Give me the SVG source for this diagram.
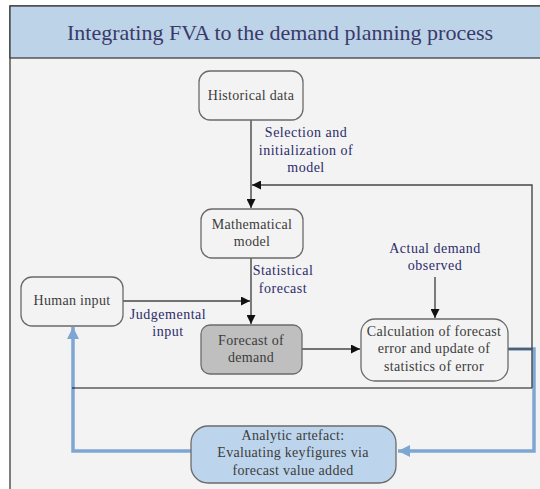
<svg xmlns="http://www.w3.org/2000/svg" width="540" height="489" viewBox="0 0 540 489">
  <defs>
    <marker id="arrow" viewBox="0 0 10 10" refX="10" refY="5" markerWidth="10" markerHeight="9" markerUnits="userSpaceOnUse" orient="auto">
      <path d="M0,0 L10,5 L0,10 z" fill="#111"/>
    </marker>
    <marker id="arrowBlue" viewBox="0 0 10 10" refX="10" refY="5" markerWidth="12" markerHeight="13" markerUnits="userSpaceOnUse" orient="auto">
      <path d="M0,0 L10,5 L0,10 z" fill="#7ea6d3"/>
    </marker>
    <style>
      text { font-family: "Liberation Serif", "DejaVu Serif", serif; }
      .node { fill: #f3f3f3; stroke: #6b6b6b; stroke-width: 1.3; }
      .dark { fill: #bfbfbf; }
      .blue { fill: #bdd5ec; }
      .ntext { font-size: 14px; letter-spacing: 0.3px; fill: #3c3c3c; text-anchor: middle; }
      .label { font-size: 14px; letter-spacing: 0.5px; fill: #2c2c6a; text-anchor: middle; }
      .title { font-size: 22px; fill: #3a3a6a; text-anchor: middle; }
      .conn { fill: none; stroke: #474747; stroke-width: 1.4; }
      .flow { fill: none; stroke: #7ea6d3; stroke-width: 3.5; }
    </style>
  </defs>

  <!-- page frame and title band -->
  <rect x="0" y="0" width="540" height="489" fill="#ffffff"/>
  <rect x="10" y="6" width="535" height="490" fill="#f3f3f3" stroke="#555" stroke-width="1.5"/>
  <rect x="10" y="6" width="535" height="52" fill="#bdd3e8" stroke="#333" stroke-width="1.2"/>
  <text class="title" x="280" y="40">Integrating FVA to the demand planning process</text>

  <!-- connectors -->
  <g id="connectors">
    <!-- value-added feedback loop (blue) -->
    <path class="flow" d="M508,349 H534 V451 H398" marker-end="url(#arrowBlue)"/>
    <path class="flow" d="M191,451 H73 V327" marker-end="url(#arrowBlue)"/>
    <!-- process boundary -->
    <path d="M72,388 H532" fill="none" stroke="#111" stroke-width="1.2"/>
    <path class="conn" d="M508,349 H532 V388"/>
    <!-- error feedback to model -->
    <path class="conn" d="M532,349 V185 H252" marker-end="url(#arrow)"/>
    <path class="conn" d="M251,120 V208" marker-end="url(#arrow)"/>
    <path class="conn" d="M251,258 V324" marker-end="url(#arrow)"/>
    <path class="conn" d="M123,301 H250" marker-end="url(#arrow)"/>
    <path class="conn" d="M302,349 H360" marker-end="url(#arrow)"/>
    <path class="conn" d="M435,277 V318" marker-end="url(#arrow)"/>
    <text class="label" x="306" y="137">Selection and</text>
    <text class="label" x="306" y="155">initialization of</text>
    <text class="label" x="306" y="172">model</text>
    <text class="label" x="283" y="275">Statistical</text>
    <text class="label" x="283" y="293">forecast</text>
    <text class="label" x="168" y="319">Judgemental</text>
    <text class="label" x="168" y="336">input</text>
    <text class="label" x="435" y="253">Actual demand</text>
    <text class="label" x="435" y="270">observed</text>
  </g>

  <g id="historical-data">
    <rect class="node" x="199" y="71" width="104" height="49" rx="11"/>
    <text class="ntext" x="251" y="100">Historical data</text>
  </g>

  <g id="mathematical-model">
    <rect class="node" x="201" y="209" width="102" height="49" rx="11"/>
    <text class="ntext" x="252" y="229">Mathematical</text>
    <text class="ntext" x="252" y="246">model</text>
  </g>

  <g id="human-input">
    <rect class="node" x="21" y="277" width="102" height="49" rx="11"/>
    <text class="ntext" x="72" y="305">Human input</text>
  </g>

  <g id="forecast-of-demand">
    <rect class="node dark" x="201" y="325" width="101" height="49" rx="9"/>
    <text class="ntext" x="251" y="345">Forecast of</text>
    <text class="ntext" x="251" y="362">demand</text>
  </g>

  <g id="forecast-error">
    <rect class="node" x="361" y="319" width="147" height="62" rx="14"/>
    <text class="ntext" x="434" y="336">Calculation of forecast</text>
    <text class="ntext" x="434" y="353">error and update of</text>
    <text class="ntext" x="434" y="371">statistics of error</text>
  </g>

  <g id="analytic-artefact">
    <rect class="node blue" x="191" y="426" width="205" height="57" rx="17"/>
    <text class="ntext" x="293" y="440">Analytic artefact:</text>
    <text class="ntext" x="293" y="457">Evaluating keyfigures via</text>
    <text class="ntext" x="293" y="475">forecast value added</text>
  </g>
</svg>
